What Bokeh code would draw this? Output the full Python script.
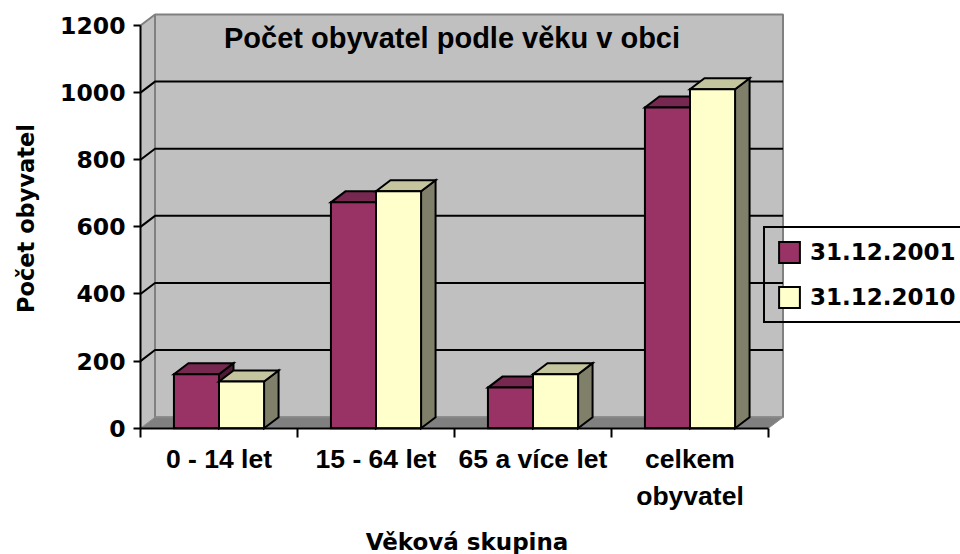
import math
from bokeh.plotting import figure
from bokeh.models import FixedTicker, Label, Legend, LegendItem, Range1d
from bokeh.embed import file_html
from bokeh.resources import INLINE

# ---- data ----
categories = ["0 - 14 let", "15 - 64 let", "65 a více let", "celkem\nobyvatel"]
series_names = ["31.12.2001", "31.12.2010"]
values_2001 = [161, 673, 121, 956]
values_2010 = [139, 706, 161, 1010]
y_ticks = [0, 200, 400, 600, 800, 1000, 1200]

chart_title = "Počet obyvatel podle věku v obci"
y_title = "Počet obyvatel"
x_title = "Věková skupina"

# ---- styles ----
front_colors = ["#993366", "#FFFFCC"]
top_colors = ["#772850", "#C4C49E"]
side_colors = ["#4F1A35", "#80806A"]
WALL = "#C0C0C0"
FLOOR = "#808080"
EDGE = "#808080"

DX = 0.0924   # 3D depth offset (x, data units)
DY = 32.8     # 3D depth offset (y, data units)
BW = 0.287    # bar width

n = len(categories)
y_top = max(y_ticks)

W, H = 960, 554
PX0, PXU = 140.0, 157.0      # pixel of x=0, pixels per category
PY0, PYU = 427.7, 0.33558    # pixel of y=0, pixels per unit

p = figure(width=W, height=H, output_backend="svg", toolbar_location=None,
           x_range=Range1d(-PX0 / PXU, (W - PX0) / PXU),
           y_range=Range1d(-(H - PY0) / PYU, PY0 / PYU),
           min_border=0, min_border_left=0, min_border_right=0,
           min_border_top=0, min_border_bottom=0,
           background_fill_color="white", border_fill_color="white",
           outline_line_color=None)
p.grid.visible = False

# walls and floor
p.patch([0, 0, DX, DX], [0, y_top, y_top + DY, DY], fill_color=WALL, line_color=None)
p.quad(left=DX, right=n + DX, bottom=DY, top=y_top + DY, fill_color=WALL,
       line_color=EDGE, line_width=2)
p.line([0, DX], [y_top, y_top + DY], line_color=EDGE, line_width=2)
p.patch([0, n, n + DX, DX], [0, 0, DY, DY], fill_color=FLOOR, line_color="#8C8C8C",
        line_width=1)

# gridlines (side wall + back wall)
gx, gy = [], []
for v in y_ticks[1:-1]:
    gx.append([0, DX, n + DX])
    gy.append([v, v + DY, v + DY])
p.multi_line(gx, gy, line_color="black", line_width=2)

# bars
front_renderers = []
for s, vals in enumerate([values_2001, values_2010]):
    x0 = [i + 0.5 - BW + s * BW for i in range(n)]
    x1 = [a + BW for a in x0]
    side_xs = [[b, b + DX, b + DX, b] for b in x1]
    side_ys = [[0, DY, v + DY, v] for v in vals]
    top_xs = [[a, b, b + DX, a + DX] for a, b in zip(x0, x1)]
    top_ys = [[v, v, v + DY, v + DY] for v in vals]
    p.patches(side_xs, side_ys, fill_color=side_colors[s], line_color="black",
              line_width=2, line_join="miter")
    p.patches(top_xs, top_ys, fill_color=top_colors[s], line_color="black",
              line_width=2, line_join="miter")
    r = p.vbar(x=[(a + b) / 2 for a, b in zip(x0, x1)], width=BW, top=vals, bottom=0,
               fill_color=front_colors[s], line_color="black", line_width=2,
               line_join="miter")
    front_renderers.append(r)

# axes (fixed at the front edges of the 3D box)
ya = p.yaxis[0]
ya.fixed_location = 0
ya.ticker = FixedTicker(ticks=y_ticks)
ya.bounds = (0, y_top)
ya.axis_line_width = 2
ya.axis_line_color = "black"
ya.major_tick_line_width = 2
ya.major_tick_out = 7
ya.major_tick_in = 0
ya.minor_tick_line_color = None
ya.major_label_standoff = 8
ya.major_label_text_font = "DejaVu Sans"
ya.major_label_text_font_style = "bold"
ya.major_label_text_font_size = "23.5px"
ya.major_label_text_color = "black"

xa = p.xaxis[0]
xa.fixed_location = 0
centers = [i + 0.5 for i in range(n)]
xa.ticker = FixedTicker(ticks=centers, minor_ticks=list(range(n + 1)))
xa.major_label_overrides = {c: lab for c, lab in zip(centers, categories)}
xa.bounds = (0, n)
xa.axis_line_width = 2
xa.axis_line_color = "black"
xa.major_tick_line_color = None
xa.major_tick_out = 0
xa.major_tick_in = 0
xa.minor_tick_line_color = "black"
xa.minor_tick_line_width = 2
xa.minor_tick_out = 9
xa.minor_tick_in = 0
xa.major_label_standoff = 7
xa.major_label_text_font = "Liberation Sans"
xa.major_label_text_font_style = "bold"
xa.major_label_text_font_size = "26.5px"
xa.major_label_text_color = "black"
xa.major_label_text_line_height = 1.24

# chart title inside the plot area
p.add_layout(Label(x=(451.5 - PX0) / PXU, y=(PY0 - 37) / PYU, text=chart_title,
                   text_align="center", text_baseline="middle",
                   text_font="Liberation Sans", text_font_style="bold",
                   text_font_size="29px", text_color="black"))

# axis titles
p.add_layout(Label(x=(466.5 - PX0) / PXU, y=(PY0 - 528) / PYU, text=x_title,
                   text_align="center", text_baseline="top",
                   text_font="DejaVu Sans", text_font_style="bold",
                   text_font_size="23px", text_color="black"))
p.add_layout(Label(x=(25 - PX0) / PXU, y=(PY0 - 218) / PYU, text=y_title,
                   angle=math.pi / 2, text_align="center", text_baseline="middle",
                   text_font="DejaVu Sans", text_font_style="bold",
                   text_font_size="22.5px", text_color="black"))

# legend
legend = Legend(items=[LegendItem(label=nm, renderers=[r])
                       for nm, r in zip(series_names, front_renderers)],
                location=(763, H - 323), orientation="vertical",
                padding=11, spacing=19, margin=0,
                glyph_width=26, glyph_height=26, label_standoff=8,
                label_text_font="DejaVu Sans", label_text_font_style="bold",
                label_text_font_size="23px", label_text_color="black",
                label_text_baseline="middle",
                border_line_color="black", border_line_width=2,
                border_line_alpha=1.0,
                background_fill_alpha=0)
p.add_layout(legend)

open("out.html", "w").write(file_html(p, INLINE))
